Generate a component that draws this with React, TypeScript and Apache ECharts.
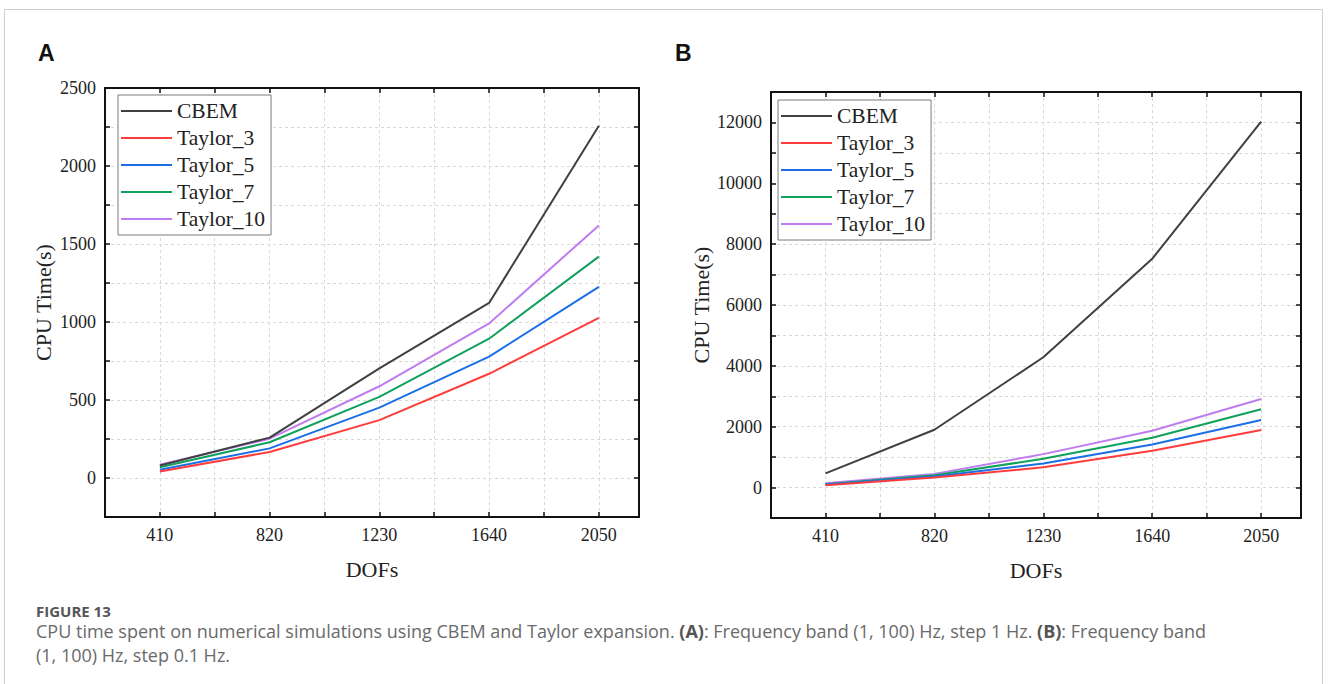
import React, { useEffect, useRef } from 'react';
import * as echarts from 'echarts';

// ---------- data ----------
const seriesNames = ['CBEM', 'Taylor_3', 'Taylor_5', 'Taylor_7', 'Taylor_10'];
const seriesColors = ['#404040', '#ff3c3c', '#1a6fe6', '#10a15c', '#bf7cf0'];
const dofs = [410, 820, 1230, 1640, 2050];
const xTickLabels = [410, 820, 1230, 1640, 2050];

// Panel A: step 1 Hz
const cbemA = [80, 259, 703, 1122, 2258];
const taylor3A = [41, 167, 371, 668, 1026];
const taylor5A = [53, 190, 451, 778, 1225];
const taylor7A = [69, 229, 520, 893, 1419];
const taylor10A = [85, 252, 588, 991, 1619];
const yTickLabelsA = [0, 500, 1000, 1500, 2000, 2500];

// Panel B: step 0.1 Hz
const cbemB = [465, 1900, 4282, 7519, 12030];
const taylor3B = [77, 330, 665, 1209, 1890];
const taylor5B = [99, 363, 791, 1418, 2220];
const taylor7B = [110, 407, 945, 1637, 2571];
const taylor10B = [143, 450, 1099, 1868, 2912];
const yTickLabelsB = [0, 2000, 4000, 6000, 8000, 10000, 12000];

const captionTitle = 'FIGURE 13';
const captionLine1 =
  'CPU time spent on numerical simulations using CBEM and Taylor expansion. {b|(A)}: Frequency band (1, 100) Hz, step 1 Hz. {b|(B)}: Frequency band';
const captionLine2 = '(1, 100) Hz, step 0.1 Hz.';

const SERIF = '"Liberation Serif", "Times New Roman", serif';
const SANS = '"Open Sans", "Noto Sans", sans-serif';

const dataA = [cbemA, taylor3A, taylor5A, taylor7A, taylor10A];
const dataB = [cbemB, taylor3B, taylor5B, taylor7B, taylor10B];

function xAxes(gridIndex: number) {
  const common = {
    type: 'value' as const,
    gridIndex,
    min: 205,
    max: 2200,
    interval: 205,
  };
  return [
    {
      ...common,
      position: 'bottom',
      axisLine: { show: true, onZero: false, lineStyle: { color: '#111', width: 2 } },
      axisTick: { show: true, inside: true, length: 5, lineStyle: { color: '#111', width: 1.5 } },
      axisLabel: {
        show: true,
        margin: 9,
        fontFamily: SERIF,
        fontSize: 18,
        color: '#222',
        formatter: (v: number) => (xTickLabels.includes(Math.round(v)) ? String(Math.round(v)) : ''),
      },
      splitLine: { show: true, lineStyle: { color: '#d8d8d8', type: [3, 3], width: 1 } },
      name: 'DOFs',
      nameLocation: 'middle',
      nameGap: 41,
      nameTextStyle: { fontFamily: SERIF, fontSize: 22, color: '#222' },
    },
    {
      ...common,
      position: 'top',
      axisLine: { show: true, onZero: false, lineStyle: { color: '#111', width: 2 } },
      axisTick: { show: true, inside: true, length: 5, lineStyle: { color: '#111', width: 1.5 } },
      axisLabel: { show: false },
      splitLine: { show: false },
    },
  ];
}

function yAxes(gridIndex: number, min: number, max: number, interval: number, labels: number[], nameGap: number) {
  const common = { type: 'value' as const, gridIndex, min, max, interval };
  return [
    {
      ...common,
      position: 'left',
      axisLine: { show: true, onZero: false, lineStyle: { color: '#111', width: 2 } },
      axisTick: { show: true, inside: true, length: 5, lineStyle: { color: '#111', width: 1.5 } },
      axisLabel: {
        show: true,
        margin: 9,
        fontFamily: SERIF,
        fontSize: 18,
        color: '#222',
        formatter: (v: number) => (labels.includes(Math.round(v)) ? String(Math.round(v)) : ''),
      },
      splitLine: { show: true, lineStyle: { color: '#d8d8d8', type: [3, 3], width: 1 } },
      name: 'CPU Time(s)',
      nameLocation: 'middle',
      nameRotate: 90,
      nameGap,
      nameTextStyle: { fontFamily: SERIF, fontSize: 22, color: '#222' },
    },
    {
      ...common,
      position: 'right',
      axisLine: { show: true, onZero: false, lineStyle: { color: '#111', width: 2 } },
      axisTick: { show: true, inside: true, length: 5, lineStyle: { color: '#111', width: 1.5 } },
      axisLabel: { show: false },
      splitLine: { show: false },
    },
  ];
}

function buildSeries(data: number[][], xAxisIndex: number, yAxisIndex: number) {
  return data.map((vals, i) => ({
    type: 'line',
    name: seriesNames[i],
    xAxisIndex,
    yAxisIndex,
    symbol: 'none',
    data: vals.map((v, j) => [dofs[j], v]),
    lineStyle: { color: seriesColors[i], width: 2 },
    itemStyle: { color: seriesColors[i] },
    z: 10 - i,
  }));
}

function legend(left: number, top: number) {
  return {
    data: seriesNames,
    orient: 'vertical',
    left,
    top,
    icon: 'rect',
    itemWidth: 51,
    itemHeight: 2,
    itemGap: 5,
    padding: [5, 6, 5, 3],
    borderColor: '#7a7a7a',
    borderWidth: 1,
    backgroundColor: '#fff',
    textStyle: { fontFamily: SERIF, fontSize: 21.5, color: '#222', lineHeight: 22 },
  };
}

export default function App() {
  const ref = useRef<HTMLDivElement>(null);

  useEffect(() => {
    document.body.style.margin = '0';
    if (!ref.current) return;
    const chart = echarts.init(ref.current, null, { renderer: 'svg' });
    chart.setOption({
      animation: false,
      backgroundColor: '#fff',
      color: seriesColors,
      grid: [
        { left: 105, top: 88, width: 534, height: 429, containLabel: false },
        { left: 771, top: 92, width: 530, height: 426, containLabel: false },
      ],
      xAxis: [...xAxes(0), ...xAxes(1)],
      yAxis: [
        ...yAxes(0, -250, 2500, 250, yTickLabelsA, 51),
        ...yAxes(1, -1000, 13000, 1000, yTickLabelsB, 59),
      ],
      legend: [legend(118, 95), legend(778, 100)],
      series: [...buildSeries(dataA, 0, 0), ...buildSeries(dataB, 2, 2)],
      graphic: [
        {
          type: 'rect',
          silent: true,
          shape: { x: 4.5, y: 9.5, width: 1318, height: 720 },
          style: { fill: 'none', stroke: '#cfcfcf', lineWidth: 1 },
        },
        {
          type: 'text',
          left: 38,
          top: 41,
          style: { text: 'A', font: 'bold 23px "Liberation Sans", Arial, sans-serif', fill: '#111' },
        },
        {
          type: 'text',
          left: 675,
          top: 41,
          style: { text: 'B', font: 'bold 23px "Liberation Sans", Arial, sans-serif', fill: '#111' },
        },
        {
          type: 'text',
          x: 36,
          y: 611,
          style: {
            text: captionTitle,
            font: 'bold 15px "Open Sans", "Noto Sans", sans-serif',
            fill: '#555',
            verticalAlign: 'middle',
          },
        },
        {
          type: 'text',
          x: 36,
          y: 631,
          style: {
            text: captionLine1,
            fontFamily: SANS,
            fontSize: 18,
            fill: '#6a6a6a',
            verticalAlign: 'middle',
            rich: { b: { fontFamily: SANS, fontSize: 18, fontWeight: 'bold', fill: '#555' } },
          },
        },
        {
          type: 'text',
          x: 36,
          y: 655,
          style: {
            text: captionLine2,
            fontFamily: SANS,
            fontSize: 18,
            fill: '#6a6a6a',
            verticalAlign: 'middle',
          },
        },
      ],
    });
    return () => chart.dispose();
  }, []);

  return <div ref={ref} style={{ width: 1328, height: 684 }} />;
}
